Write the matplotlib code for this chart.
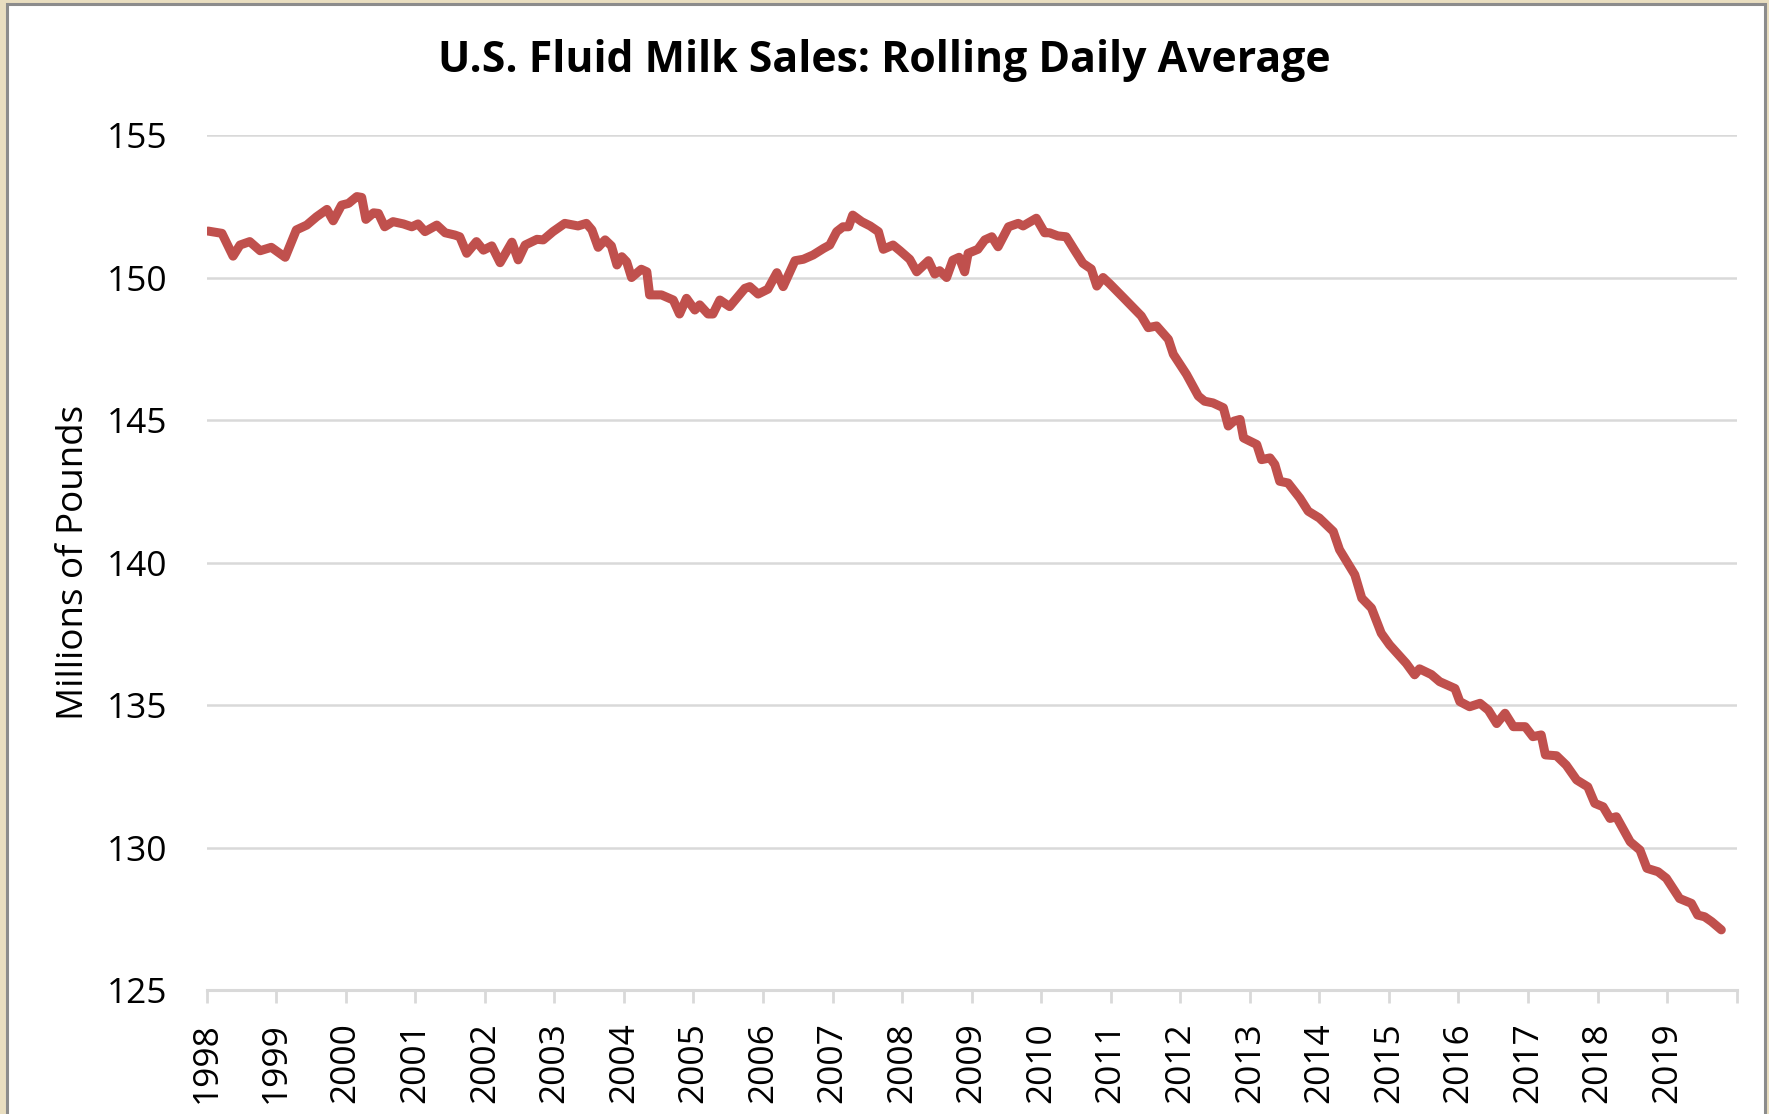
import matplotlib
matplotlib.use("Agg")
import matplotlib.pyplot as plt
from matplotlib.patches import Rectangle

# rolling daily average, millions of pounds (decimal years)
years = [
    1998.02, 1998.22, 1998.38, 1998.48, 1998.62, 1998.77, 1998.93, 1999.13, 1999.29, 1999.44,
    1999.58, 1999.73, 1999.82, 1999.94, 2000.04, 2000.16, 2000.23, 2000.29, 2000.40, 2000.47,
    2000.56, 2000.68, 2000.83, 2000.95, 2001.04, 2001.14, 2001.31, 2001.43, 2001.57, 2001.64,
    2001.74, 2001.88, 2001.98, 2002.10, 2002.22, 2002.39, 2002.48, 2002.58, 2002.75, 2002.84,
    2002.98, 2003.15, 2003.34, 2003.46, 2003.54, 2003.63, 2003.73, 2003.82, 2003.90, 2003.97,
    2004.04, 2004.11, 2004.25, 2004.33, 2004.37, 2004.54, 2004.71, 2004.80, 2004.90, 2005.02,
    2005.09, 2005.21, 2005.28, 2005.38, 2005.52, 2005.74, 2005.81, 2005.93, 2006.07, 2006.20,
    2006.29, 2006.46, 2006.58, 2006.72, 2006.87, 2006.96, 2007.06, 2007.15, 2007.23, 2007.29,
    2007.42, 2007.54, 2007.66, 2007.73, 2007.87, 2007.97, 2008.11, 2008.21, 2008.38, 2008.47,
    2008.54, 2008.64, 2008.73, 2008.82, 2008.90, 2008.95, 2009.09, 2009.19, 2009.29, 2009.38,
    2009.53, 2009.67, 2009.74, 2009.93, 2010.05, 2010.12, 2010.24, 2010.36, 2010.48, 2010.60,
    2010.72, 2010.80, 2010.89, 2010.99, 2011.18, 2011.44, 2011.54, 2011.66, 2011.83, 2011.90,
    2012.09, 2012.26, 2012.35, 2012.47, 2012.62, 2012.69, 2012.77, 2012.86, 2012.91, 2013.10,
    2013.17, 2013.29, 2013.36, 2013.43, 2013.55, 2013.72, 2013.84, 2014.00, 2014.20, 2014.29,
    2014.51, 2014.61, 2014.75, 2014.89, 2015.01, 2015.25, 2015.37, 2015.44, 2015.61, 2015.73,
    2015.95, 2016.02, 2016.16, 2016.31, 2016.43, 2016.55, 2016.67, 2016.79, 2016.96, 2017.07,
    2017.19, 2017.25, 2017.41, 2017.55, 2017.70, 2017.86, 2017.96, 2018.08, 2018.18, 2018.27,
    2018.47, 2018.61, 2018.71, 2018.87, 2018.99, 2019.18, 2019.35, 2019.44, 2019.54, 2019.64,
    2019.78,
]
sales = [
    151.63, 151.55, 150.75, 151.14, 151.26, 150.94, 151.06, 150.71, 151.67, 151.84,
    152.13, 152.39, 151.99, 152.54, 152.60, 152.84, 152.81, 152.04, 152.27, 152.25,
    151.78, 151.96, 151.88, 151.78, 151.88, 151.61, 151.84, 151.57, 151.49, 151.43,
    150.85, 151.26, 150.96, 151.11, 150.52, 151.24, 150.62, 151.14, 151.34, 151.32,
    151.61, 151.90, 151.81, 151.90, 151.67, 151.06, 151.32, 151.11, 150.44, 150.73,
    150.55, 150.00, 150.29, 150.20, 149.39, 149.39, 149.21, 148.72, 149.27, 148.86,
    149.04, 148.72, 148.72, 149.21, 148.98, 149.62, 149.68, 149.42, 149.59, 150.17,
    149.68, 150.59, 150.64, 150.79, 151.02, 151.14, 151.61, 151.78, 151.78, 152.19,
    151.96, 151.81, 151.61, 150.99, 151.14, 150.94, 150.64, 150.20, 150.59, 150.12,
    150.24, 150.00, 150.61, 150.71, 150.20, 150.85, 150.99, 151.32, 151.43, 151.08,
    151.78, 151.90, 151.81, 152.08, 151.57, 151.57, 151.46, 151.43, 150.96, 150.50,
    150.30, 149.70, 150.00, 149.77, 149.30, 148.65, 148.24, 148.30, 147.83, 147.31,
    146.60, 145.84, 145.66, 145.60, 145.43, 144.79, 144.96, 145.02, 144.37, 144.14,
    143.61, 143.67, 143.44, 142.85, 142.79, 142.26, 141.80, 141.56, 141.09, 140.45,
    139.57, 138.75, 138.40, 137.52, 137.11, 136.46, 136.06, 136.27, 136.07, 135.82,
    135.58, 135.12, 134.94, 135.06, 134.82, 134.35, 134.71, 134.24, 134.24, 133.89,
    133.95, 133.25, 133.22, 132.89, 132.37, 132.13, 131.55, 131.43, 131.02, 131.08,
    130.20, 129.91, 129.27, 129.15, 128.92, 128.21, 128.04, 127.63, 127.57, 127.40,
    127.11,
]

tick_years = list(range(1998, 2021))
tick_labels = [str(y) for y in range(1998, 2020)] + [""]
y_ticks = [125, 130, 135, 140, 145, 150, 155]

plt.rcParams["font.family"] = ["Open Sans", "DejaVu Sans"]

fig = plt.figure(figsize=(17.69, 11.14), dpi=100, facecolor="#e9dec0")

# white chart panel with grey frame, kept behind the axes
frame = Rectangle((0.004, -0.01), 0.994, 1.006, transform=fig.transFigure,
                  facecolor="white", edgecolor="#8c8c8c", linewidth=2.2, zorder=-5)
fig.patches.append(frame)

ax = fig.add_axes([0.1168, 0.1113, 0.8649, 0.7675])
ax.set_facecolor("white")

ax.plot(years, sales, color="#c0504d", linewidth=6.5, solid_joinstyle="round",
        solid_capstyle="round", zorder=3)

ax.set_xlim(1998, 2020)
ax.set_ylim(125, 155)
ax.set_yticks(y_ticks)
ax.set_xticks(tick_years)
ax.set_xticklabels(tick_labels, rotation=90)

ax.grid(axis="y", color="#d9d9d9", linewidth=1.8)
ax.set_axisbelow(True)
for side in ["top", "right", "left"]:
    ax.spines[side].set_visible(False)
ax.spines["bottom"].set_color("#d9d9d9")
ax.spines["bottom"].set_linewidth(2.2)
ax.spines["bottom"].set_zorder(2)

ax.tick_params(axis="x", length=9, width=2, color="#d9d9d9", labelsize=25.5, pad=14)
ax.tick_params(axis="y", length=0, labelsize=25.5, pad=28)

ax.set_ylabel("Millions of Pounds", fontsize=26.5, labelpad=11)

fig.text(0.5, 1 - 60 / 1114, "U.S. Fluid Milk Sales: Rolling Daily Average",
         ha="center", va="center", fontsize=30.8, fontweight="bold")

plt.savefig("out.png", dpi=100, facecolor=fig.get_facecolor())
